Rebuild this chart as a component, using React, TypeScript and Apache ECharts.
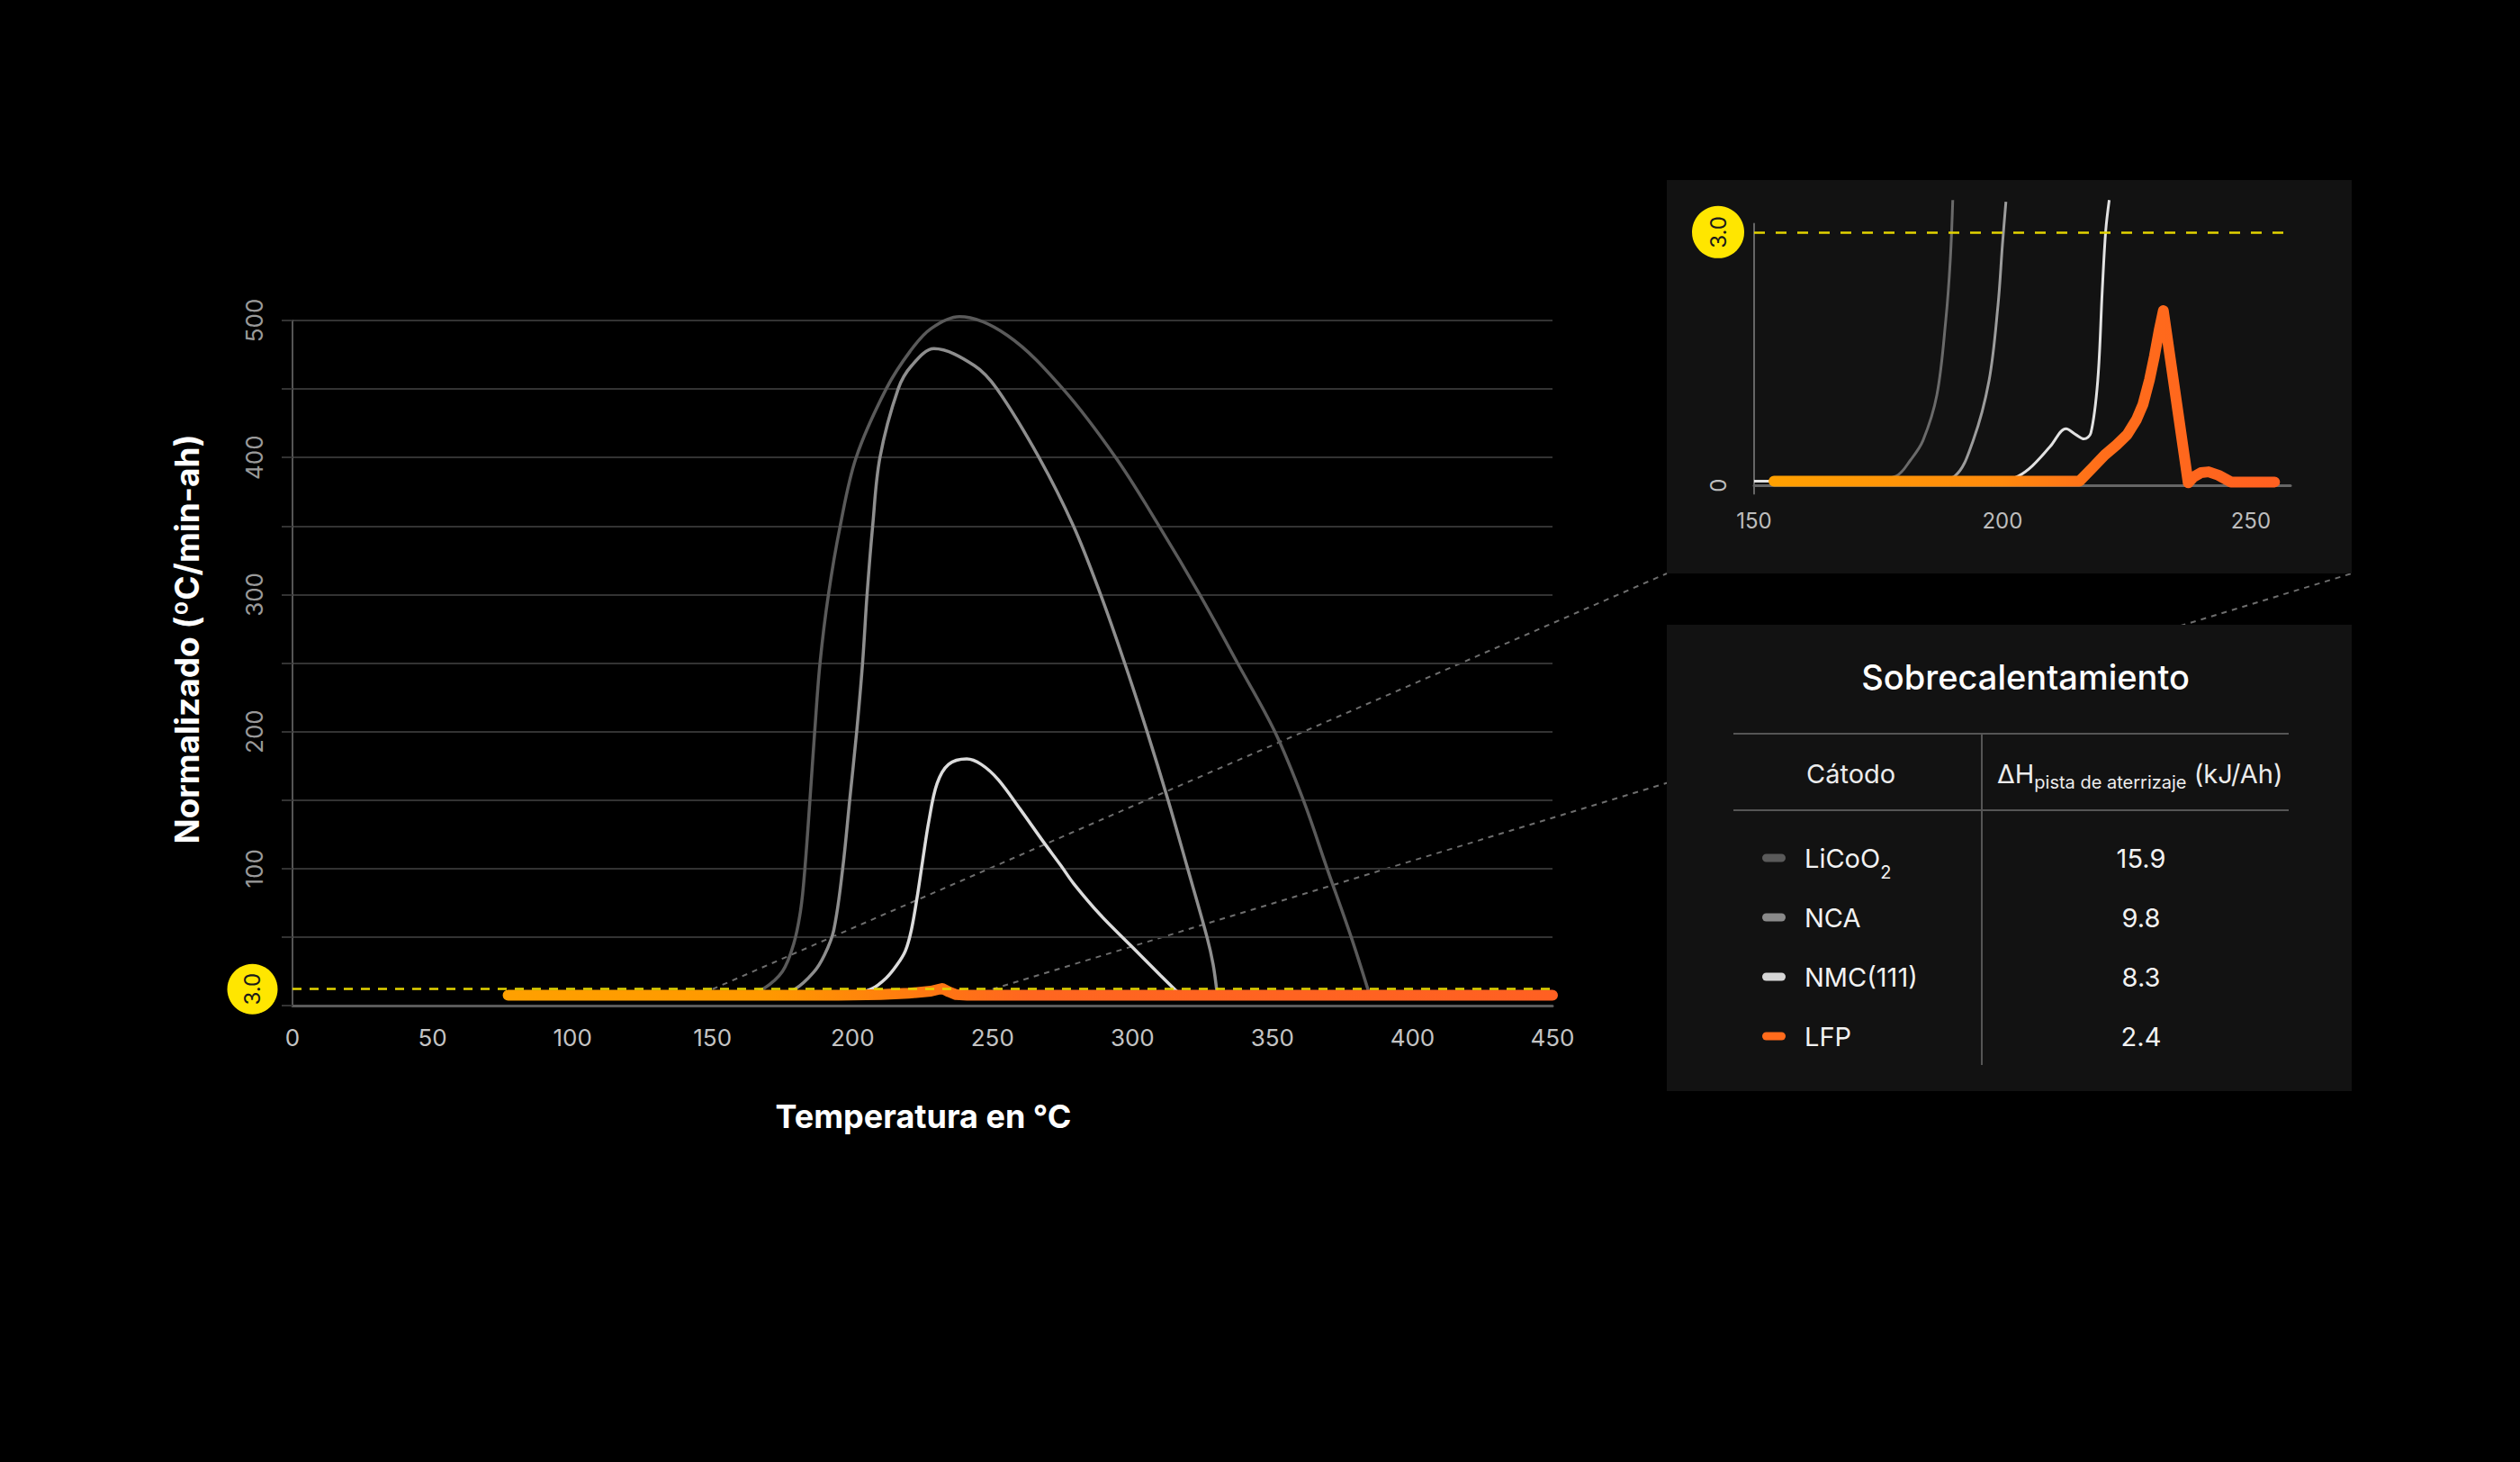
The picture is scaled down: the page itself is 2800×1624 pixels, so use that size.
import { useEffect, useRef } from "react";
import * as echarts from "echarts";

type Pt = [number, number];

// ---- main chart: normalised self-heating rate vs temperature (°C) ----
const licoo2Main: Pt[] = [
  [150, 7], [162, 8], [168, 12], [175, 25], [179, 45], [181.5, 70], [183, 100],
  [184.8, 150], [186.5, 200], [188.4, 250], [191.4, 300], [195.6, 350],
  [201.3, 400], [212, 450], [220.6, 477.6], [228, 494], [238.2, 502.8],
  [255.4, 489], [275.2, 450], [294, 400], [309.5, 350], [324, 300],
  [337.5, 250], [350.8, 200], [361, 150], [369.5, 100], [378.1, 50], [384.5, 9],
];
const ncaMain: Pt[] = [
  [150, 7], [172, 8], [179.4, 12], [186, 24], [190, 37], [193.3, 55], [196.5, 100],
  [199, 150], [201.5, 200], [203.6, 250], [205.2, 300], [207.2, 350],
  [209.8, 400], [216.3, 450], [221.1, 467], [229.1, 479.4], [243.6, 467],
  [251.6, 450], [266.6, 400], [278.9, 350], [288.6, 300], [297.2, 250],
  [305.2, 200], [312.7, 150], [319.7, 100], [326.6, 50], [328.8, 30], [330.2, 9],
];
const nmcMain: Pt[] = [
  [150, 7], [198, 8], [206.7, 12], [212, 20], [216, 30], [218.9, 40],
  [221, 55], [223, 78], [225, 105], [227.3, 135], [230.2, 162], [234.3, 176],
  [240.8, 180], [246, 176], [252, 165], [260, 143], [268, 120], [274.5, 102],
  [279, 89], [288.6, 66], [299.3, 44], [310, 22], [316.5, 9],
];
const lfpMain: Pt[] = [
  [77, 7.5], [150, 7.5], [195, 7.5], [210, 8], [220, 9], [228, 10.5],
  [232, 12.5], [234.5, 10], [237, 8], [241, 7.5], [300, 7.5], [450, 7.5],
];
const thresholdMain = 12;

// ---- inset: zoom on 150–258 °C, threshold 3.0 ----
const licoo2Zoom: Pt[] = [
  [150, 0.05], [172, 0.05], [178.6, 0.11], [181.5, 0.3], [184, 0.53],
  [186.8, 1.07], [188.6, 1.96], [189.5, 2.67], [190, 3.38],
];
const ncaZoom: Pt[] = [
  [150, 0.05], [185, 0.05], [190.4, 0.11], [194.1, 0.53], [197.3, 1.24],
  [199.1, 2.13], [200, 2.85], [200.7, 3.36],
];
const nmcZoom: Pt[] = [
  [150, 0.05], [200, 0.05], [203.2, 0.11], [206, 0.23], [209.6, 0.46],
  [212.8, 0.67], [214.8, 0.6], [216.4, 0.55], [217.8, 0.62], [219.2, 1.25],
  [220.1, 2.31], [220.8, 3.02], [221.5, 3.38],
];
const lfpZoom: Pt[] = [
  [154, 0.05], [215.5, 0.05], [218, 0.2], [220.6, 0.36], [223, 0.48],
  [225.1, 0.6], [227, 0.78], [228.3, 0.96], [229.6, 1.25], [230.6, 1.53],
  [231.6, 1.85], [232.4, 2.07], [237.4, 0.03], [238.5, 0.1], [240, 0.15],
  [241.5, 0.16], [243.5, 0.12], [246, 0.04], [254.8, 0.04],
];
const thresholdZoom = 3.0;

// ---- table ----
const tableTitle = "Sobrecalentamiento";
const cathodes = ["LiCoO2", "NCA", "NMC(111)", "LFP"];
const enthalpy = ["15.9", "9.8", "8.3", "2.4"];

const FONT = "Inter, 'Noto Sans', sans-serif";
const GRAYS = ["#5a5a5a", "#8e8e8e", "#dcdcdc"];
const SWATCH = ["#5a5a5a", "#8a8a8a", "#d6d6d6", "#ff6b1c"];
const YELLOW = "#ffe600";

function grayLine(name: string, data: Pt[], color: string, axis: number, width: number) {
  return {
    type: "line", name, data, xAxisIndex: axis, yAxisIndex: axis,
    smooth: 0.35, showSymbol: false, clip: false, silent: true,
    lineStyle: { color, width },
  };
}

export default function App() {
  const ref = useRef<HTMLDivElement | null>(null);

  useEffect(() => {
    document.body.style.margin = "0";
    document.body.style.background = "#000";
    const chart = echarts.init(ref.current!, null, { renderer: "svg" });

    const lfpMainGrad = new echarts.graphic.LinearGradient(0, 0, 1, 0, [
      { offset: 0, color: "#ffa000" },
      { offset: 0.25, color: "#ff9800" },
      { offset: 0.42, color: "#ff7414" },
      { offset: 0.5, color: "#ff6620" },
      { offset: 1, color: "#ff6022" },
    ]);
    const lfpZoomGrad = new echarts.graphic.LinearGradient(0, 0, 1, 0, [
      { offset: 0, color: "#ffa000" },
      { offset: 0.45, color: "#ff8a0c" },
      { offset: 0.65, color: "#ff6e1a" },
      { offset: 1, color: "#ff6020" },
    ]);

    chart.setOption({
      animation: false,
      backgroundColor: "#000",
      grid: [
        { left: 325, top: 356, width: 1400, height: 761 },
        { left: 1949, top: 248.5, width: 596, height: 300 },
      ],
      xAxis: [
        {
          type: "value", gridIndex: 0, min: 0, max: 450, interval: 50,
          axisLine: { lineStyle: { color: "#5a5a5a", width: 3 } },
          axisTick: { show: false }, splitLine: { show: false },
          axisLabel: { color: "#c4c4c4", fontSize: 26, fontFamily: FONT, margin: 22 },
        },
        {
          type: "value", gridIndex: 1, min: 150, max: 258, interval: 50,
          axisLine: { lineStyle: { color: "#666", width: 3 } },
          axisTick: { show: false }, splitLine: { show: false },
          axisLabel: {
            color: "#bdbdbd", fontSize: 24, fontFamily: FONT, margin: 18,
            showMaxLabel: false,
          },
        },
      ],
      yAxis: [
        {
          type: "value", gridIndex: 0, min: 0, max: 500, interval: 50,
          axisLine: { show: true, lineStyle: { color: "#555", width: 2 } },
          axisTick: { show: true, length: 12, lineStyle: { color: "#333", width: 2 } },
          splitLine: { lineStyle: { color: "#333", width: 2 } },
          axisLabel: {
            color: "#9a9a9a", fontSize: 26, fontFamily: FONT, rotate: 90, margin: 30,
            formatter: (v: number) => (v > 0 && v % 100 === 0 ? String(v) : ""),
          },
        },
        {
          type: "value", gridIndex: 1, min: -0.1, max: 3.1, interval: 0.1,
          axisLine: { show: true, lineStyle: { color: "#666", width: 2 } },
          axisTick: { show: false }, splitLine: { show: false },
          axisLabel: {
            color: "#bdbdbd", fontSize: 24, fontFamily: FONT, rotate: 90, margin: 28,
            formatter: (v: number) => (Math.abs(v) < 1e-9 ? "0" : ""),
          },
        },
      ],
      series: [
        grayLine("LiCoO2", licoo2Main, GRAYS[0], 0, 3.5),
        grayLine("NCA", ncaMain, GRAYS[1], 0, 3.5),
        grayLine("NMC(111)", nmcMain, GRAYS[2], 0, 3.5),
        {
          type: "line", name: "LFP", data: lfpMain, xAxisIndex: 0, yAxisIndex: 0,
          showSymbol: false, clip: false, silent: true,
          lineStyle: { color: lfpMainGrad, width: 12, cap: "round", join: "round" },
          markLine: {
            silent: true, symbol: "none", label: { show: false },
            lineStyle: { color: "#e3d400", width: 2.5, type: [10, 9] },
            data: [{ yAxis: thresholdMain }],
          },
        },
        grayLine("LiCoO2", licoo2Zoom, "#6a6a6a", 1, 3),
        grayLine("NCA", ncaZoom, "#9c9c9c", 1, 3),
        grayLine("NMC(111)", nmcZoom, "#e2e2e2", 1, 3),
        {
          type: "line", name: "LFP", data: lfpZoom, xAxisIndex: 1, yAxisIndex: 1,
          showSymbol: false, clip: false, silent: true,
          lineStyle: { color: lfpZoomGrad, width: 12, cap: "round", join: "round" },
          markLine: {
            silent: true, symbol: "none", label: { show: false },
            lineStyle: { color: "#e3d400", width: 2.5, type: [12, 12] },
            data: [{ yAxis: thresholdZoom }],
          },
        },
      ],
    });

    const pMain = chart.convertToPixel({ gridIndex: 0 }, [0, thresholdMain]) as number[];
    const pZoom = chart.convertToPixel({ gridIndex: 1 }, [150, thresholdZoom]) as number[];
    const c150 = chart.convertToPixel({ gridIndex: 0 }, [150, thresholdMain]) as number[];
    const c250 = chart.convertToPixel({ gridIndex: 0 }, [250, thresholdMain]) as number[];

    const inset = { x: 1852, y: 200, w: 761, h: 437 };
    const table = { x: 1852, y: 694, w: 761, h: 518 };
    const dashed = { stroke: "#6e6e6e", lineWidth: 2, lineDash: [6, 6] };

    const badge = (cx: number, cy: number, r: number) => [
      { type: "circle", z: 20, shape: { cx, cy, r }, style: { fill: YELLOW } },
      {
        type: "text", z: 21, x: cx, y: cy, rotation: Math.PI / 2,
        style: {
          text: "3.0", fill: "#1a1a1a", fontSize: 24, fontFamily: FONT,
          align: "center", verticalAlign: "middle",
        },
      },
    ];

    const rowY0 = 953;
    const rowStep = 66;
    const rows: any[] = [];
    cathodes.forEach((name, i) => {
      const y = rowY0 + i * rowStep;
      rows.push({
        type: "rect", z: 10,
        shape: { x: 1958, y: y - 4.5, width: 26, height: 9, r: 4.5 },
        style: { fill: SWATCH[i] },
      });
      const label = name === "LiCoO2" ? "{m|LiCoO}{s|2}" : `{m|${name}}`;
      rows.push({
        type: "text", z: 10, x: 2005, y,
        style: {
          text: label, align: "left", verticalAlign: "middle",
          rich: {
            m: { fontSize: 29, fontFamily: FONT, fill: "#f2f2f2", lineHeight: 52 },
            s: { fontSize: 20, fontFamily: FONT, fill: "#f2f2f2", verticalAlign: "bottom", lineHeight: 20 },
          },
        },
      });
      rows.push({
        type: "text", z: 10, x: 2379, y,
        style: {
          text: enthalpy[i], fill: "#f2f2f2", fontSize: 29, fontFamily: FONT,
          align: "center", verticalAlign: "middle",
        },
      });
    });

    chart.setOption({
      graphic: [
        // dashed projection of the zoomed range onto the inset
        { type: "line", z: -10, shape: { x1: c150[0], y1: c150[1], x2: inset.x, y2: inset.y + inset.h }, style: dashed },
        { type: "line", z: -10, shape: { x1: c250[0], y1: c250[1], x2: inset.x + inset.w, y2: inset.y + inset.h }, style: dashed },
        { type: "rect", z: -5, shape: { x: inset.x, y: inset.y, width: inset.w, height: inset.h }, style: { fill: "#121212" } },
        { type: "rect", z: -5, shape: { x: table.x, y: table.y, width: table.w, height: table.h }, style: { fill: "#121212" } },
        ...badge(pMain[0] - 44.5, pMain[1], 28),
        ...badge(pZoom[0] - 40, pZoom[1], 29),
        {
          type: "text", z: 10, x: 207.6, y: 710, rotation: Math.PI / 2,
          style: {
            text: "Normalizado (ºC/min-ah)", fill: "#fff", fontSize: 37, fontWeight: "bold",
            fontFamily: FONT, align: "center", verticalAlign: "middle",
          },
        },
        {
          type: "text", z: 10, x: 1026, y: 1240,
          style: {
            text: "Temperatura en °C", fill: "#fff", fontSize: 36, fontWeight: "bold",
            fontFamily: FONT, align: "center", verticalAlign: "middle",
          },
        },
        // table
        {
          type: "text", z: 10, x: 2250.6, y: 752,
          style: {
            text: tableTitle, fill: "#fff", fontSize: 38, fontWeight: 500, fontFamily: FONT,
            align: "center", verticalAlign: "middle",
          },
        },
        { type: "line", z: 10, shape: { x1: 1926, y1: 815, x2: 2543, y2: 815 }, style: { stroke: "#555", lineWidth: 2 } },
        { type: "line", z: 10, shape: { x1: 1926, y1: 900, x2: 2543, y2: 900 }, style: { stroke: "#555", lineWidth: 2 } },
        { type: "line", z: 10, shape: { x1: 2202, y1: 815, x2: 2202, y2: 1183 }, style: { stroke: "#555", lineWidth: 2 } },
        {
          type: "text", z: 10, x: 2056.6, y: 859,
          style: {
            text: "Cátodo", fill: "#ececec", fontSize: 29, fontFamily: FONT,
            align: "center", verticalAlign: "middle",
          },
        },
        {
          type: "text", z: 10, x: 2219, y: 859,
          style: {
            text: "{m|ΔH}{s|pista de aterrizaje}{m| (kJ/Ah)}", align: "left", verticalAlign: "middle",
            rich: {
              m: { fontSize: 29, fontFamily: FONT, fill: "#ececec", lineHeight: 40 },
              s: { fontSize: 20, fontFamily: FONT, fill: "#ececec", verticalAlign: "bottom", lineHeight: 20 },
            },
          },
        },
        ...rows,
      ],
    });

    return () => chart.dispose();
  }, []);

  return (
    <div
      ref={ref}
      style={{ position: "fixed", left: 0, top: 0, width: 2800, height: 1624, background: "#000" }}
    />
  );
}
